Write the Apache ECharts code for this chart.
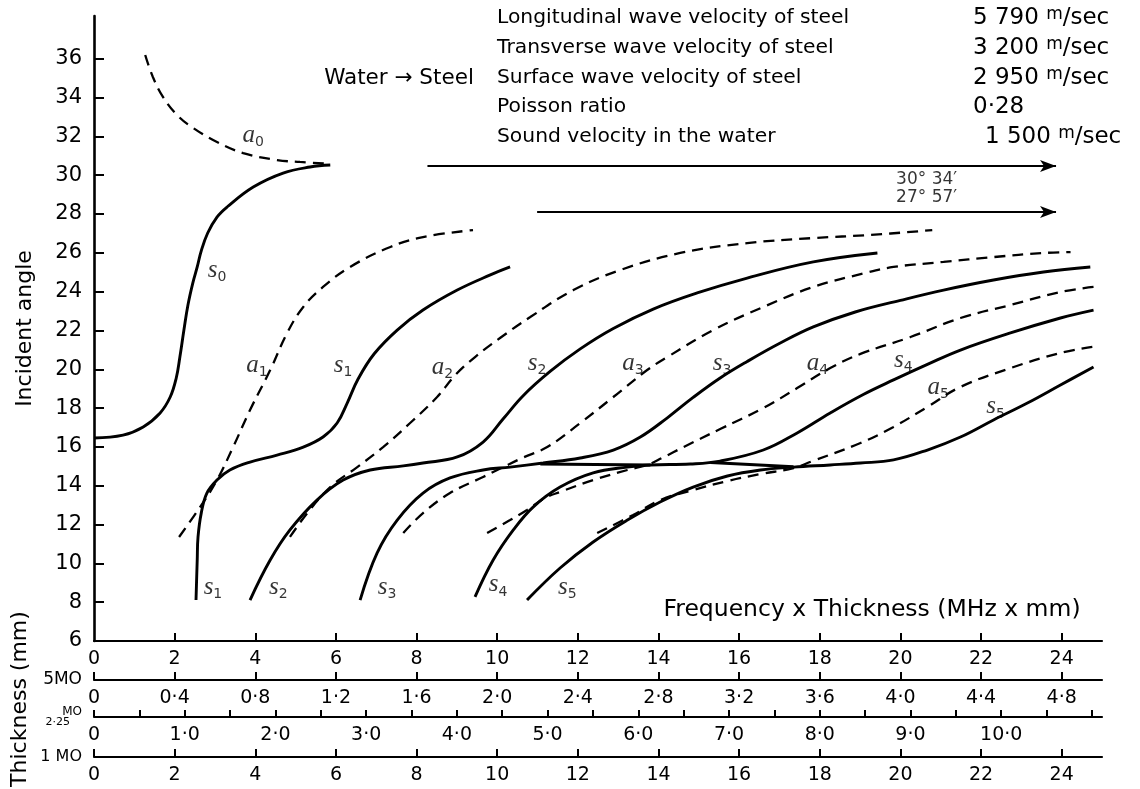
<!DOCTYPE html>
<html><head><meta charset="utf-8">
<script src="https://cdn.jsdelivr.net/npm/echarts@6/dist/echarts.min.js"></script>
<style>html,body{margin:0;padding:0;background:#fff}#c{width:1140px;height:789px}</style>
</head><body><div id="c"></div>
<script>
// ---------- data (Frequency x Thickness [MHz·mm], Incident angle [deg]) ----------
const s0 = [[0,16.46],[0.72,16.61],[1.22,17.03],[1.64,17.75],[1.89,18.57],[2.04,19.55],[2.13,20.63],[2.23,22.02],[2.33,23.31],[2.45,24.44],[2.56,25.27],[2.66,26.10],[2.82,27.02],[3.05,27.84],[3.30,28.36],[3.95,29.39],[4.69,30.11],[5.36,30.42],[5.86,30.52]];
const a0 = [[1.27,36.19],[1.46,35.06],[1.71,34.03],[2.06,33.10],[2.46,32.43],[3.05,31.71],[3.70,31.14],[4.54,30.78],[5.11,30.68],[5.86,30.58]];
const s1 = [[2.53,8.11],[2.56,10.17],[2.58,11.36],[2.66,12.59],[2.80,13.62],[3.05,14.29],[3.37,14.81],[3.87,15.22],[4.54,15.58],[5.19,15.99],[5.68,16.51],[6.03,17.23],[6.28,18.26],[6.55,19.50],[6.95,20.80],[7.52,22.02],[8.16,23.05],[9.01,24.08],[9.83,24.86],[10.32,25.27]];
const a1 = [[2.11,11.36],[2.63,12.90],[3.05,14.29],[3.45,15.99],[3.87,17.90],[4.37,19.96],[4.79,21.87],[5.19,23.21],[5.68,24.24],[6.35,25.27],[7.35,26.30],[8.16,26.81],[9.40,27.17]];
const s2 = [[3.87,8.11],[4.37,10.17],[4.86,11.72],[5.53,13.26],[6.18,14.29],[6.85,14.81],[7.67,15.02],[8.16,15.17],[9.01,15.48],[9.65,16.25],[10.15,17.45],[10.65,18.65],[11.32,19.90],[12.06,21.05],[12.88,22.10],[13.87,23.10],[14.96,23.93],[16.20,24.70],[17.84,25.53],[19.43,25.99]];
const a2 = [[4.86,11.36],[5.29,12.59],[5.86,13.93],[6.53,14.96],[7.17,15.99],[7.84,17.23],[8.51,18.57],[8.96,19.70],[9.45,20.63],[10.07,21.61],[10.82,22.69],[11.89,24.08],[13.05,25.11],[14.54,25.99],[16.20,26.50],[17.84,26.76],[19.26,26.92],[20.79,27.17]];
const s3 = [[6.60,8.11],[7.02,10.53],[7.52,12.23],[8.16,13.62],[8.83,14.40],[9.65,14.81],[10.32,14.96],[11.14,15.17],[12.06,15.43],[12.88,15.84],[13.55,16.51],[14.22,17.50],[14.86,18.55],[15.53,19.55],[16.20,20.40],[17.02,21.35],[17.84,22.18],[18.88,22.95],[20.00,23.55],[21.07,24.08],[22.31,24.60],[23.55,25.01],[24.71,25.27]];
const a3 = [[7.67,11.56],[8.16,12.59],[8.83,13.62],[9.65,14.45],[10.15,14.96],[10.62,15.43],[11.24,15.99],[12.06,17.23],[12.88,18.57],[13.72,19.96],[14.22,20.63],[15.36,22.02],[16.60,23.21],[17.84,24.24],[19.13,24.96],[19.83,25.27],[21.07,25.53],[22.31,25.78],[23.55,25.99],[24.22,26.04]];
const s4 = [[9.45,8.27],[9.90,10.17],[10.40,11.72],[10.89,12.90],[11.56,13.93],[12.38,14.66],[13.23,14.96],[13.80,15.07],[14.79,15.12],[15.53,15.27],[16.60,15.84],[17.44,16.72],[18.26,17.75],[19.08,18.70],[19.83,19.45],[20.67,20.25],[21.49,20.99],[22.73,21.87],[23.97,22.64],[24.79,23.05]];
const s4Join = [[11.07,15.12],[13.80,15.07]];
const a4 = [[9.75,11.56],[10.32,12.23],[10.74,12.75],[11.19,13.37],[11.56,13.68],[12.38,14.29],[13.23,14.81],[13.72,15.07],[14.09,15.43],[14.62,15.99],[15.53,16.92],[16.60,18.00],[17.44,19.03],[18.26,20.06],[19.01,20.79],[20.25,21.66],[21.49,22.64],[22.73,23.31],[23.97,23.98],[24.79,24.24]];
const s5 = [[10.74,8.11],[11.56,9.76],[12.38,11.10],[13.23,12.23],[14.04,13.16],[14.86,13.93],[15.71,14.50],[16.53,14.81],[17.35,14.96],[18.26,15.07],[19.01,15.17],[19.83,15.33],[20.67,15.84],[21.49,16.51],[22.31,17.39],[23.15,18.26],[23.97,19.19],[24.79,20.12]];
const s5Join = [[15.29,15.20],[17.35,14.98]];
const a5 = [[12.48,11.56],[13.37,12.49],[14.04,13.26],[14.86,13.78],[15.71,14.24],[16.53,14.60],[17.35,14.91],[17.82,15.27],[19.01,16.20],[19.83,17.03],[20.67,18.06],[21.49,19.09],[22.73,20.06],[23.97,20.84],[24.76,21.15]];

// curve labels: [x, y, letter, subscript]
const curveLabels = [[3.95,32.07,'a','0'],[3.05,25.11,'s','0'],[4.04,20.22,'a','1'],[6.18,20.22,'s','1'],[8.64,20.12,'a','2'],[10.99,20.32,'s','2'],[13.37,20.32,'a','3'],[15.58,20.32,'s','3'],[17.94,20.32,'a','4'],[20.07,20.48,'s','4'],[20.94,19.09,'a','5'],[22.36,18.06,'s','5'],[2.95,8.78,'s','1'],[4.57,8.78,'s','2'],[7.27,8.78,'s','3'],[10.02,8.89,'s','4'],[11.74,8.78,'s','5']];

// limiting angle arrows and their notes
const arrowLines = [[[8.27,30.47],[23.86,30.47]],[[10.99,28.10],[23.86,28.10]]];
const angleNotes = [[20.65,29.75,'30° 34′'],[20.65,28.82,'27° 57′']];

// axis ticks / labels
const angleTicks = [6,8,10,12,14,16,18,20,22,24,26,28,30,32,34,36];
const ftTicks = [0,2,4,6,8,10,12,14,16,18,20,22,24];
const thick5Labels = ['0','0·4','0·8','1·2','1·6','2·0','2·4','2·8','3·2','3·6','4·0','4·4','4·8'];
const thick225Ticks = [0,0.5,1,1.5,2,2.5,3,3.5,4,4.5,5,5.5,6,6.5,7,7.5,8,8.5,9,9.5,10,10.5,11];
const thick225Labels = [0,1,2,3,4,5,6,7,8,9,10];
const thick1Labels = ['0','2','4','6','8','10','12','14','16','18','20','22','24'];

// material properties table
const propNames = ['Longitudinal wave velocity of steel','Transverse wave velocity of steel','Surface wave velocity of steel','Poisson ratio','Sound velocity in the water'];
const propValues = ['5 790','3 200','2 950','0·28','1 500'];
const propUnits = ['m/sec','m/sec','m/sec','','m/sec'];

// ---------- chart ----------
const FONT = 'DejaVu Sans';
const chart = echarts.init(document.getElementById('c'));

function curve(name, data, dashed) {
  return { name, type:'line', data, smooth:0.4, showSymbol:false, symbol:'none', silent:true,
    lineStyle:{color:'#000', width: dashed ? 2.3 : 2.9, type: dashed ? [11,7] : 'solid'}, z:3 };
}

const baseAxis = {
  type:'value', position:'bottom', splitLine:{show:false},
  axisLine:{show:true, onZero:false, lineStyle:{color:'#000', width:2.2}},
  axisTick:{show:true, inside:true, length:8, lineStyle:{color:'#000', width:2}},
  axisLabel:{color:'#000', fontFamily:FONT, fontSize:19, margin:9}
};

const graphics = [];
const rowY = [18,48,78,107,137];
propNames.forEach((t,i)=>{
  graphics.push({type:'text', x:497, y:rowY[i], style:{text:t, fontFamily:FONT, fontSize:20.3, fill:'#000', align:'left', verticalAlign:'middle'}});
  const unit = propUnits[i] ? '{u|m}{v|/sec}' : '';
  graphics.push({type:'text', x: i===4 ? 985 : 973, y:rowY[i], style:{text:'{v|'+propValues[i]+' }'+unit, fontFamily:FONT, fontSize:23, fill:'#000', align:'left', verticalAlign:'middle',
    rich:{v:{fontFamily:FONT, fontSize:23, lineHeight:24, verticalAlign:'bottom'}, u:{fontFamily:FONT, fontSize:17, lineHeight:16, verticalAlign:'top'}}}});
});
graphics.push({type:'text', x:399, y:78, style:{text:'Water → Steel', fontFamily:FONT, fontSize:21.5, fill:'#000', align:'center', verticalAlign:'middle'}});
graphics.push({type:'text', x:872, y:610, style:{text:'Frequency x Thickness (MHz x mm)', fontFamily:FONT, fontSize:23.5, fill:'#000', align:'center', verticalAlign:'middle'}});
graphics.push({type:'text', x:20, y:699, rotation:Math.PI/2, style:{text:'Thickness (mm)', fontFamily:FONT, fontSize:22, fill:'#000', align:'center', verticalAlign:'middle'}});

const option = {
  backgroundColor:'#fff',
  animation:false,
  grid:{left:94, right:38, top:16, bottom:148, containLabel:false},
  xAxis:[
    Object.assign({}, baseAxis, {min:0, max:25, offset:0,
      axisTick:Object.assign({}, baseAxis.axisTick, {customValues:ftTicks.slice(1)}),
      axisLabel:Object.assign({}, baseAxis.axisLabel, {customValues:ftTicks})}),
    Object.assign({}, baseAxis, {min:0, max:25, offset:39,
      name:'5MO', nameLocation:'start', nameGap:12, nameTextStyle:{fontFamily:FONT, fontSize:17, color:'#000', verticalAlign:'middle'},
      axisTick:Object.assign({}, baseAxis.axisTick, {customValues:ftTicks}),
      axisLabel:Object.assign({}, baseAxis.axisLabel, {customValues:ftTicks, formatter:(v)=>thick5Labels[Math.round(v/2)]})}),
    Object.assign({}, baseAxis, {min:0, max:25/2.25, offset:76,
      name:'{a|MO}\n{b|2·25}', nameLocation:'start', nameGap:10,
      nameTextStyle:{fontFamily:FONT, color:'#000', align:'right', rich:{a:{fontFamily:FONT, fontSize:12, lineHeight:11, align:'right'}, b:{fontFamily:FONT, fontSize:11, lineHeight:11, align:'right', padding:[0,12,0,0]}}},
      axisTick:Object.assign({}, baseAxis.axisTick, {customValues:thick225Ticks, length:7}),
      axisLabel:Object.assign({}, baseAxis.axisLabel, {customValues:thick225Labels, formatter:(v)=> v===0 ? '0' : v.toFixed(1).replace('.','·')})}),
    Object.assign({}, baseAxis, {min:0, max:25, offset:116,
      name:'1 MO', nameLocation:'start', nameGap:12, nameTextStyle:{fontFamily:FONT, fontSize:16, color:'#000', verticalAlign:'middle'},
      axisTick:Object.assign({}, baseAxis.axisTick, {customValues:ftTicks}),
      axisLabel:Object.assign({}, baseAxis.axisLabel, {customValues:ftTicks, formatter:(v)=>thick1Labels[Math.round(v/2)]})})
  ],
  yAxis:[{
    type:'value', min:6, max:38.2, splitLine:{show:false},
    name:'Incident angle', nameLocation:'middle', nameRotate:90, nameGap:58,
    nameTextStyle:{fontFamily:FONT, fontSize:22, color:'#000'},
    axisLine:{show:true, onZero:false, lineStyle:{color:'#000', width:2.6}},
    axisTick:{show:true, inside:true, length:10, customValues:angleTicks.slice(1), lineStyle:{color:'#000', width:2}},
    axisLabel:{color:'#000', fontFamily:FONT, fontSize:21, margin:12, customValues:angleTicks}
  }],
  series:[
    curve('s0', s0, false), curve('a0', a0, true),
    curve('s1', s1, false), curve('a1', a1, true),
    curve('s2', s2, false), curve('a2', a2, true),
    curve('s3', s3, false), curve('a3', a3, true),
    curve('s4', s4, false), curve('s4 join', s4Join, false), curve('a4', a4, true),
    curve('s5', s5, false), curve('s5 join', s5Join, false), curve('a5', a5, true),
    { type:'line', data:[], silent:true,
      markLine:{ silent:true, symbol:['none','arrow'], symbolSize:[9,16], label:{show:false},
        lineStyle:{color:'#000', width:2, type:'solid'},
        data: arrowLines.map(a => [{coord:a[0]},{coord:a[1]}]) } },
    { type:'scatter', data:curveLabels, symbolSize:1, itemStyle:{color:'rgba(0,0,0,0)'}, silent:true, z:5,
      label:{show:true, position:'inside',
        formatter:(p)=>'{m|'+p.data[2]+'}{b|'+p.data[3]+'}',
        rich:{ m:{fontFamily:'Liberation Serif', fontStyle:'italic', fontSize:25, lineHeight:28, color:'#000', verticalAlign:'middle'},
               b:{fontFamily:FONT, fontSize:14, lineHeight:14, color:'#000', verticalAlign:'bottom'} } } },
    { type:'scatter', data:angleNotes, symbolSize:1, itemStyle:{color:'rgba(0,0,0,0)'}, silent:true, z:5,
      label:{show:true, position:'inside', formatter:(p)=>p.data[2], fontFamily:FONT, fontSize:17, color:'#000'} }
  ],
  graphic: graphics
};
chart.setOption(option);
</script></body></html>
